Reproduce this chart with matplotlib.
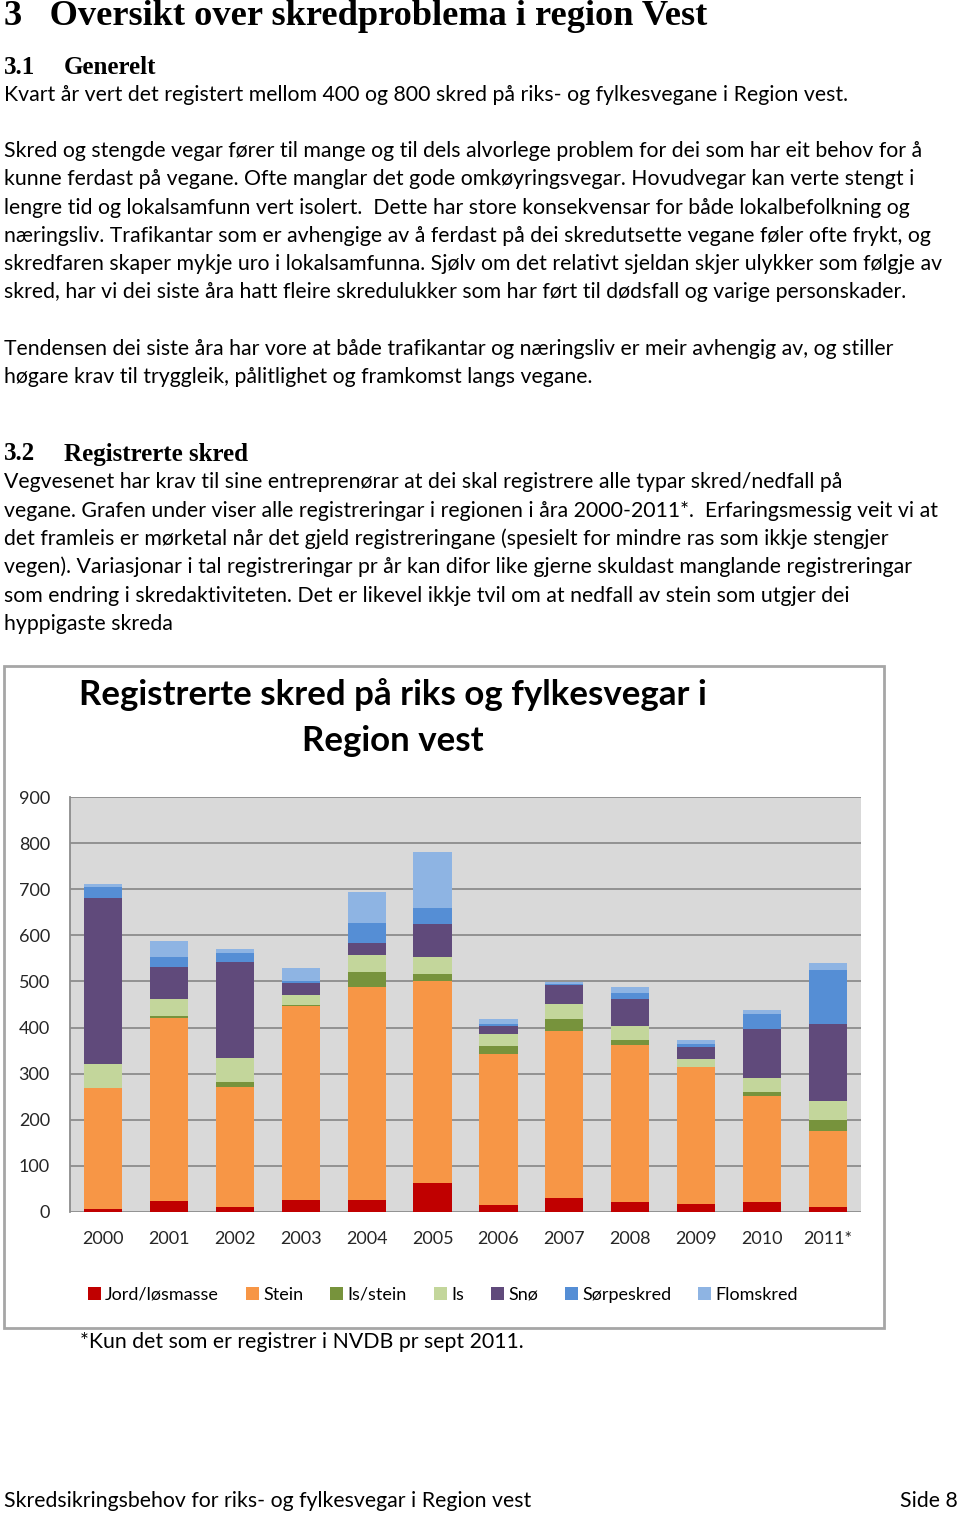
import matplotlib
matplotlib.use("Agg")
import matplotlib.pyplot as plt
from matplotlib.patches import Rectangle, Patch
import numpy as np

W, H = 960, 1515
BODY_FONT = ["Lato", "DejaVu Sans"]
HEAD_FONT = ["Liberation Serif", "DejaVu Serif"]

years = ["2000", "2001", "2002", "2003", "2004", "2005", "2006", "2007", "2008", "2009", "2010", "2011*"]
series_names = ["Jord/løsmasse", "Stein", "Is/stein", "Is", "Snø", "Sørpeskred", "Flomskred"]
jord = [7, 24, 10, 25, 25, 62, 15, 30, 21, 17, 21, 10]
stein = [262, 396, 262, 422, 463, 440, 327, 363, 341, 297, 230, 165]
is_stein = [0, 5, 11, 3, 33, 14, 18, 26, 11, 0, 9, 25]
is_ = [51, 36, 52, 20, 37, 38, 25, 33, 30, 17, 30, 40]
sno = [361, 70, 207, 27, 26, 70, 18, 41, 58, 26, 107, 168]
sorpe = [23, 23, 20, 4, 42, 35, 5, 2, 13, 8, 32, 117]
flom = [8, 33, 9, 28, 67, 121, 11, 3, 14, 8, 8, 16]
series_values = [jord, stein, is_stein, is_, sno, sorpe, flom]
colors = ["#C00000", "#F79646", "#77933C", "#C3D69B", "#604A7B", "#558ED5", "#8EB4E3"]
yticks = [0, 100, 200, 300, 400, 500, 600, 700, 800, 900]

fig = plt.figure(figsize=(W / 100, H / 100), dpi=100)
fig.patch.set_facecolor("white")


def fx(x):
    return x / W


def fy(y):
    return 1 - y / H


renderer = fig.canvas.get_renderer()


def put(x, y, s, size, family=BODY_FONT, weight="normal", ha="left", fit=None, va="center"):
    t = fig.text(fx(x), fy(y), s, fontsize=size, family=family, weight=weight,
                 ha=ha, va=va, color="black")
    if fit is not None:
        w = t.get_window_extent(renderer).width
        t.set_fontsize(size * fit / w)
    return t


# Headings
put(4, 25, "3   Oversikt over skredproblema i region Vest", 24, HEAD_FONT, "bold",
    fit=704, va="baseline")
put(4, 67, "3.1", 18, HEAD_FONT, "bold")
put(64, 67, "Generelt", 18, HEAD_FONT, "bold")
put(4, 454, "3.2", 18, HEAD_FONT, "bold")
put(64, 454, "Registrerte skred", 18, HEAD_FONT, "bold")

body = [
    (95, "Kvart år vert det registert mellom 400 og 800 skred på riks- og fylkesvegane i Region vest."),
    (151, "Skred og stengde vegar fører til mange og til dels alvorlege problem for dei som har eit behov for å"),
    (179, "kunne ferdast på vegane. Ofte manglar det gode omkøyringsvegar. Hovudvegar kan verte stengt i"),
    (208, "lengre tid og lokalsamfunn vert isolert.  Dette har store konsekvensar for både lokalbefolkning og"),
    (236, "næringsliv. Trafikantar som er avhengige av å ferdast på dei skredutsette vegane føler ofte frykt, og"),
    (264, "skredfaren skaper mykje uro i lokalsamfunna. Sjølv om det relativt sjeldan skjer ulykker som følgje av"),
    (292, "skred, har vi dei siste åra hatt fleire skredulukker som har ført til dødsfall og varige personskader."),
    (349, "Tendensen dei siste åra har vore at både trafikantar og næringsliv er meir avhengig av, og stiller"),
    (377, "høgare krav til tryggleik, pålitlighet og framkomst langs vegane."),
    (482, "Vegvesenet har krav til sine entreprenørar at dei skal registrere alle typar skred/nedfall på"),
    (511, "vegane. Grafen under viser alle registreringar i regionen i åra 2000-2011*.  Erfaringsmessig veit vi at"),
    (539, "det framleis er mørketal når det gjeld registreringane (spesielt for mindre ras som ikkje stengjer"),
    (567, "vegen). Variasjonar i tal registreringar pr år kan difor like gjerne skuldast manglande registreringar"),
    (596, "som endring i skredaktiviteten. Det er likevel ikkje tvil om at nedfall av stein som utgjer dei"),
    (624, "hyppigaste skreda"),
]
probe = put(4, 95, body[0][1], 14, fit=843)
body_size = probe.get_fontsize()
probe.remove()
for y, s in body:
    put(4, y, s, body_size)

# Chart frame
fig.patches.append(Rectangle((fx(4), fy(1328)), fx(880), (1328 - 666) / H,
                             transform=fig.transFigure, facecolor="white",
                             edgecolor="#A6A6A6", linewidth=2, zorder=-10))

# Chart title
t1 = put(393, 695, "Registrerte skred på riks og fylkesvegar i", 22, weight="bold", ha="center", fit=627)
put(393, 741, "Region vest", t1.get_fontsize(), weight="bold", ha="center")

ax = fig.add_axes([fx(70), fy(1212), (861 - 70) / W, (1212 - 797) / H])
ax.set_zorder(5)
ax.set_facecolor("#D9D9D9")
x = np.arange(len(years))
bottom = np.zeros(len(years))
for name, vals, c in zip(series_names, series_values, colors):
    ax.bar(x, vals, bottom=bottom, width=0.58, color=c, label=name, zorder=3)
    bottom += np.array(vals)
ax.set_xlim(-0.5, len(years) - 0.5)
ax.set_ylim(0, 900)
ax.set_yticks(yticks)
ax.set_xticks(x)
ax.set_xticklabels(years)
ax.grid(axis="y", color="#8C8C8C", linewidth=1.3, zorder=1)
for sp in ["top", "right", "bottom"]:
    ax.spines[sp].set_visible(False)
ax.spines["left"].set_color("#8C8C8C")
ax.spines["left"].set_linewidth(1.3)
ax.tick_params(axis="both", length=0, labelsize=13, colors="#262626")
ax.tick_params(axis="y", pad=14.5)
ax.tick_params(axis="x", pad=14)
for lbl in ax.get_xticklabels() + ax.get_yticklabels():
    lbl.set_family(BODY_FONT)

handles = [Patch(facecolor=c, edgecolor="none") for c in colors]
fig.legend(handles, series_names, loc="center", bbox_to_anchor=(fx(443), fy(1295)),
           ncol=7, frameon=False, handlelength=0.7, handleheight=0.7,
           handletextpad=0.25, columnspacing=1.5,
           prop={"family": BODY_FONT, "size": 13})

put(80, 1342, "*Kun det som er registrer i NVDB pr sept 2011.", body_size)
put(4, 1501, "Skredsikringsbehov for riks- og fylkesvegar i Region vest", body_size)
put(958, 1501, "Side 8", body_size, ha="right")

fig.savefig("out.png", dpi=100)
